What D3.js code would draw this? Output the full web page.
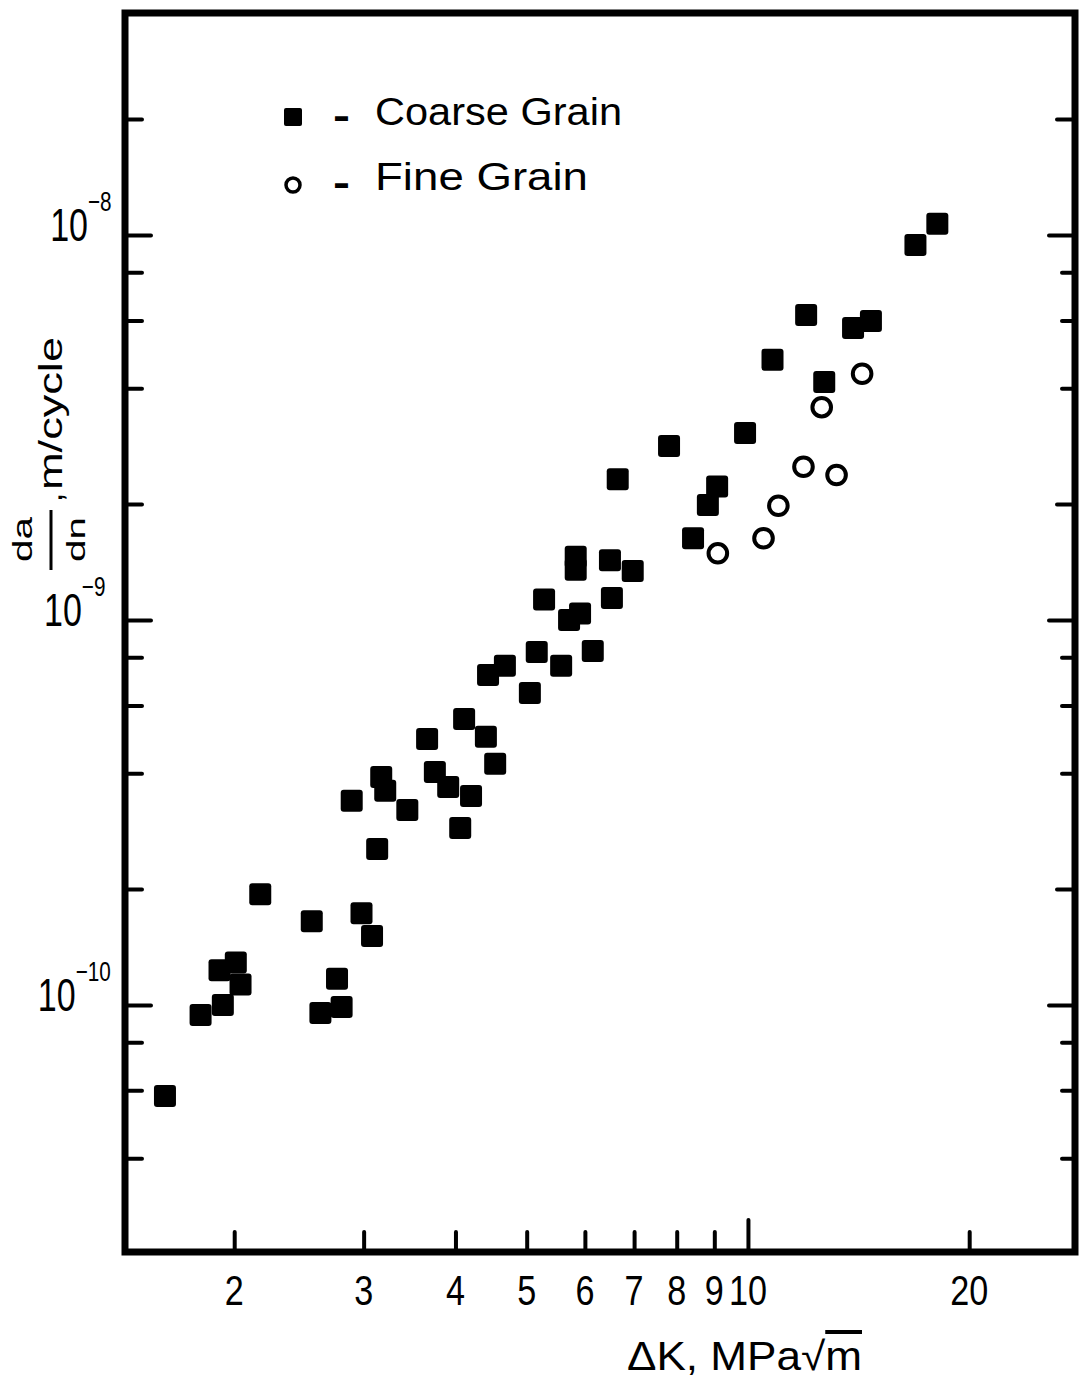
<!DOCTYPE html>
<html>
<head>
<meta charset="utf-8">
<script src="https://cdn.jsdelivr.net/npm/d3@7"></script>
<style>
  body { margin: 0; background: #fff; }
  svg { display: block; }
  text { font-family: "Liberation Sans", Arial, sans-serif; fill: #000; }
</style>
</head>
<body>
<script>
// da/dn against delta K, coarse and fine grain, log-log

// coarse grain: delta K (MPa sqrt m) and da/dn (m/cycle)
var coarseK = [1.61, 1.80, 1.93, 1.91, 2.01, 2.04, 2.17, 2.55, 2.62, 2.76,
               2.80, 2.89, 2.98, 3.08, 3.13, 3.17, 3.21, 3.44, 3.66, 3.75,
               3.91, 4.06, 4.11, 4.20, 4.40, 4.53, 4.43, 4.67, 5.05, 5.16,
               5.57, 5.28, 5.71, 5.91, 5.83, 5.83, 6.15, 6.49, 6.53, 6.65,
               6.97, 7.81, 8.42, 8.82, 9.08, 9.91, 10.8, 12.0, 12.7, 13.9,
               14.7, 16.9, 18.1];
var coarseRate = [5.80e-11, 9.42e-11, 1.00e-10, 1.23e-10, 1.29e-10, 1.13e-10, 1.94e-10, 1.65e-10, 9.53e-11, 1.17e-10,
                  9.88e-11, 3.39e-10, 1.73e-10, 1.51e-10, 2.54e-10, 3.91e-10, 3.60e-10, 3.21e-10, 4.91e-10, 4.03e-10,
                  3.68e-10, 2.88e-10, 5.53e-10, 3.49e-10, 4.97e-10, 4.23e-10, 7.20e-10, 7.60e-10, 6.46e-10, 8.26e-10,
                  7.60e-10, 1.13e-9, 1.00e-9, 1.04e-9, 1.46e-9, 1.35e-9, 8.31e-10, 1.43e-9, 1.14e-9, 2.32e-9,
                  1.34e-9, 2.83e-9, 1.63e-9, 1.99e-9, 2.22e-9, 3.06e-9, 4.74e-9, 6.20e-9, 4.15e-9, 5.73e-9,
                  5.98e-9, 9.42e-9, 1.07e-8];

// fine grain
var fineK = [9.10, 10.5, 11.0, 11.9, 13.2, 12.6, 14.3];
var fineRate = [1.49e-9, 1.63e-9, 1.98e-9, 2.50e-9, 2.38e-9, 3.57e-9, 4.36e-9];

var xTicks = [2, 3, 4, 5, 6, 7, 8, 9, 10, 20];
var yTicks = [4e-11, 6e-11, 8e-11, 1e-10, 2e-10, 4e-10, 6e-10, 8e-10,
              1e-9, 2e-9, 4e-9, 6e-9, 8e-9, 1e-8, 2e-8];
var yDecades = [1e-8, 1e-9, 1e-10];
var yExponents = ["\u22128", "\u22129", "\u221210"];
var legendNames = ["Coarse Grain", "Fine Grain"];

var W = 1086, H = 1379;
var frame = {left: 125, right: 1075, top: 13, bottom: 1252};

var svg = d3.select("body").append("svg")
  .attr("width", W)
  .attr("height", H);

var x = d3.scaleLog().domain([1.4205, 27.86]).range([frame.left, frame.right]);
var y = d3.scaleLog().domain([2.282e-11, 3.772e-8]).range([frame.bottom, frame.top]);

function isDecade(v) {
  var l = Math.log10(v);
  return Math.abs(l - Math.round(l)) < 1e-6;
}
function isTwo(v) {
  var l = Math.log10(v);
  return Math.abs(l - Math.floor(l) - Math.log10(2)) < 1e-6;
}

// ticks, all pointing inward
svg.append("g")
  .attr("transform", "translate(" + frame.left + ",0)")
  .call(d3.axisRight(y).tickValues(yTicks).tickFormat("").tickSizeOuter(0))
  .call(function(g) { g.select(".domain").remove(); })
  .selectAll(".tick line")
  .attr("x2", function(d) { return isDecade(d) ? 26 : 17; });

svg.append("g")
  .attr("transform", "translate(" + frame.right + ",0)")
  .call(d3.axisLeft(y).tickValues(yTicks).tickFormat("").tickSizeOuter(0))
  .call(function(g) { g.select(".domain").remove(); })
  .selectAll(".tick line")
  .attr("x2", function(d) { return isDecade(d) ? -26 : (isTwo(d) ? -18 : -13); });

svg.append("g")
  .attr("transform", "translate(0," + frame.bottom + ")")
  .call(d3.axisTop(x).tickValues(xTicks).tickFormat("").tickSizeOuter(0))
  .call(function(g) { g.select(".domain").remove(); })
  .selectAll(".tick line")
  .attr("y2", function(d) { return d === 10 ? -32 : -20; });

svg.selectAll(".tick line")
  .attr("stroke", "#000")
  .attr("stroke-width", 4)
  .attr("stroke-linecap", "round");

// frame
svg.append("rect")
  .attr("x", frame.left)
  .attr("y", frame.top)
  .attr("width", frame.right - frame.left)
  .attr("height", frame.bottom - frame.top)
  .attr("fill", "none")
  .attr("stroke", "#000")
  .attr("stroke-width", 7);

// x tick labels (narrow lettering)
svg.append("g").selectAll("text")
  .data(xTicks)
  .enter().append("text")
  .attr("x", function(d) { return x(d); })
  .attr("y", 1305)
  .attr("text-anchor", "middle")
  .attr("font-size", 42)
  .attr("textLength", function(d) { return String(d).length * 19; })
  .attr("lengthAdjust", "spacingAndGlyphs")
  .text(function(d) { return d; });

// y decade labels, squeezed sideways; the scanned left edge leans,
// so the labels drift left going down
var yl = svg.append("g").selectAll("text")
  .data(yDecades)
  .enter().append("text")
  .attr("transform", function(d) {
    return "translate(" + (44 + (620 - y(d)) * 0.016) + "," + (y(d) + 6) + ") scale(0.74,1)";
  })
  .attr("font-size", 46);
yl.append("tspan").text("10");
yl.append("tspan")
  .attr("dy", -30)
  .attr("font-size", 28)
  .text(function(d, i) { return yExponents[i]; });

// x title
var xt = svg.append("text")
  .attr("x", 627)
  .attr("y", 1370)
  .attr("font-size", 40)
  .attr("textLength", 235)
  .attr("lengthAdjust", "spacingAndGlyphs");
xt.append("tspan").text("\u0394K, MPa\u221A");
xt.append("tspan").style("text-decoration", "overline").text("m");

// y title, rotated
var yt = svg.append("g").attr("transform", "rotate(-90)");
yt.append("text")
  .attr("x", -539.5).attr("y", 32)
  .attr("text-anchor", "middle")
  .attr("font-size", 27)
  .attr("textLength", 45)
  .attr("lengthAdjust", "spacingAndGlyphs")
  .text("da");
yt.append("line")
  .attr("x1", -510).attr("x2", -570)
  .attr("y1", 51).attr("y2", 51)
  .attr("stroke", "#000")
  .attr("stroke-width", 3);
yt.append("text")
  .attr("x", -539.5).attr("y", 85)
  .attr("text-anchor", "middle")
  .attr("font-size", 25)
  .attr("textLength", 45)
  .attr("lengthAdjust", "spacingAndGlyphs")
  .text("dn");
yt.append("text")
  .attr("x", -502).attr("y", 62)
  .attr("font-size", 33)
  .text(",");
yt.append("text")
  .attr("x", -490).attr("y", 62)
  .attr("font-size", 34)
  .attr("textLength", 153)
  .attr("lengthAdjust", "spacingAndGlyphs")
  .text("m/cycle");

// coarse grain squares
var sq = 22;
svg.append("g").selectAll("rect")
  .data(coarseK)
  .enter().append("rect")
  .attr("x", function(d) { return x(d) - sq / 2; })
  .attr("y", function(d, i) { return y(coarseRate[i]) - sq / 2; })
  .attr("width", sq)
  .attr("height", sq)
  .attr("rx", 3)
  .attr("fill", "#000");

// fine grain circles
svg.append("g").selectAll("circle")
  .data(fineK)
  .enter().append("circle")
  .attr("cx", function(d) { return x(d); })
  .attr("cy", function(d, i) { return y(fineRate[i]); })
  .attr("r", 9.3)
  .attr("fill", "none")
  .attr("stroke", "#000")
  .attr("stroke-width", 4);

// legend
var lg = svg.append("g");
lg.append("rect")
  .attr("x", 284).attr("y", 108)
  .attr("width", 18).attr("height", 18)
  .attr("rx", 2)
  .attr("fill", "#000");
lg.append("circle")
  .attr("cx", 293).attr("cy", 185)
  .attr("r", 7)
  .attr("fill", "none")
  .attr("stroke", "#000")
  .attr("stroke-width", 3.5);
lg.selectAll("text.dash")
  .data(legendNames)
  .enter().append("text")
  .attr("class", "dash")
  .attr("x", 333)
  .attr("y", function(d, i) { return 129 + i * 67; })
  .attr("font-size", 38)
  .attr("font-weight", "bold")
  .attr("textLength", 17)
  .attr("lengthAdjust", "spacingAndGlyphs")
  .text("-");
lg.selectAll("text.name")
  .data(legendNames)
  .enter().append("text")
  .attr("class", "name")
  .attr("x", 375)
  .attr("y", function(d, i) { return 125 + i * 65; })
  .attr("font-size", 38)
  .attr("textLength", function(d, i) { return i === 0 ? 247 : 213; })
  .attr("lengthAdjust", "spacingAndGlyphs")
  .text(function(d) { return d; });
</script>
</body>
</html>
